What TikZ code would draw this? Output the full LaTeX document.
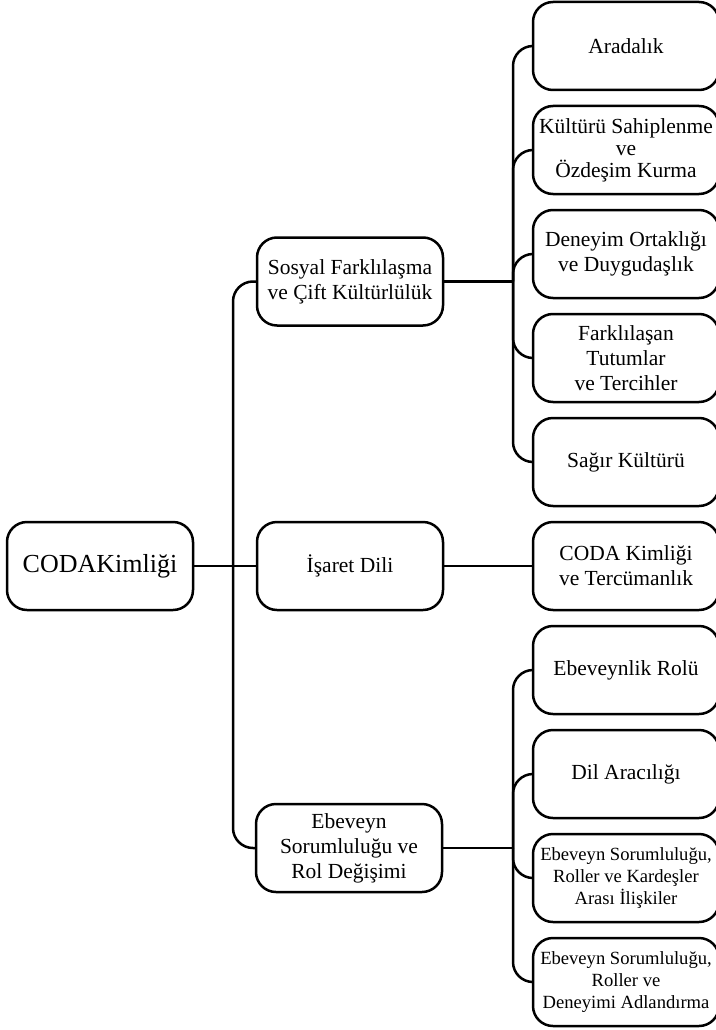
\documentclass[tikz,border=0pt]{standalone}
\usepackage{fontspec}
\setmainfont{Liberation Serif}
\begin{document}
\begin{tikzpicture}[x=1pt,y=-1pt,
  box/.style={draw=black, fill=white, line width=2.5pt, rounded corners=20pt,
    minimum width=186pt, minimum height=88pt, inner sep=0pt, align=center,
    font=\fontsize{21.5}{25}\selectfont},
  rbox/.style={box, minimum width=186pt},
  small/.style={font=\fontsize{18.6}{22}\selectfont},
  conn/.style={draw=black, line width=2.5pt, rounded corners=20pt}]
\useasboundingbox (0,0) rectangle (715,1030);
% root
\node[box, font=\fontsize{26}{30}\selectfont] (root) at (100,566) {CODAKimliği};
% mid level
\node[box] (sos) at (350,281.5) {Sosyal Farklılaşma\\ve Çift Kültürlülük};
\node[box] (isa) at (350,566) {İşaret Dili};
\node[box] (ebe) at (349,848) {Ebeveyn\\Sorumluluğu ve\\Rol Değişimi};
% right level
\node[rbox] (ara) at (626,46) {Aradalık};
\node[rbox, font=\fontsize{21.5}{22}\selectfont] (kul) at (626,150) {Kültürü Sahiplenme\\ve\\Özdeşim Kurma};
\node[rbox] (den) at (626,254) {Deneyim Ortaklığı\\ve Duygudaşlık};
\node[rbox] (far) at (626,358) {Farklılaşan\\Tutumlar\\ve Tercihler};
\node[rbox] (sag) at (626,462) {Sağır Kültürü};
\node[rbox] (cod) at (626,566) {CODA Kimliği\\ve Tercümanlık};
\node[rbox] (rol) at (626,670) {Ebeveynlik Rolü};
\node[rbox] (dil) at (626,774) {Dil Aracılığı};
\node[rbox, small] (kar) at (626,878) {Ebeveyn Sorumluluğu,\\Roller ve Kardeşler\\Arası İlişkiler};
\node[rbox, small] (adl) at (626,982) {Ebeveyn Sorumluluğu,\\Roller ve\\Deneyimi Adlandırma};
% bus points
\coordinate (b0) at (233,566);
\coordinate (b1) at (513,281.5);
\coordinate (b3) at (513,848);
% trunk
\draw[conn] (root.east) -- (b0);
\draw[conn] (b0) |- (sos.west);
\draw[conn] (b0) -- (isa.west);
\draw[conn] (b0) |- (ebe.west);
% first group
\draw[conn] (sos.east) -- (b1);
\foreach \c in {ara,kul,den,far,sag}{\draw[conn] (b1) |- (\c.west);}
% second
\draw[conn] (isa.east) -- (cod.west);
% third group
\draw[conn] (ebe.east) -- (b3);
\foreach \c in {rol,dil,kar,adl}{\draw[conn] (b3) |- (\c.west);}
\end{tikzpicture}
\end{document}
